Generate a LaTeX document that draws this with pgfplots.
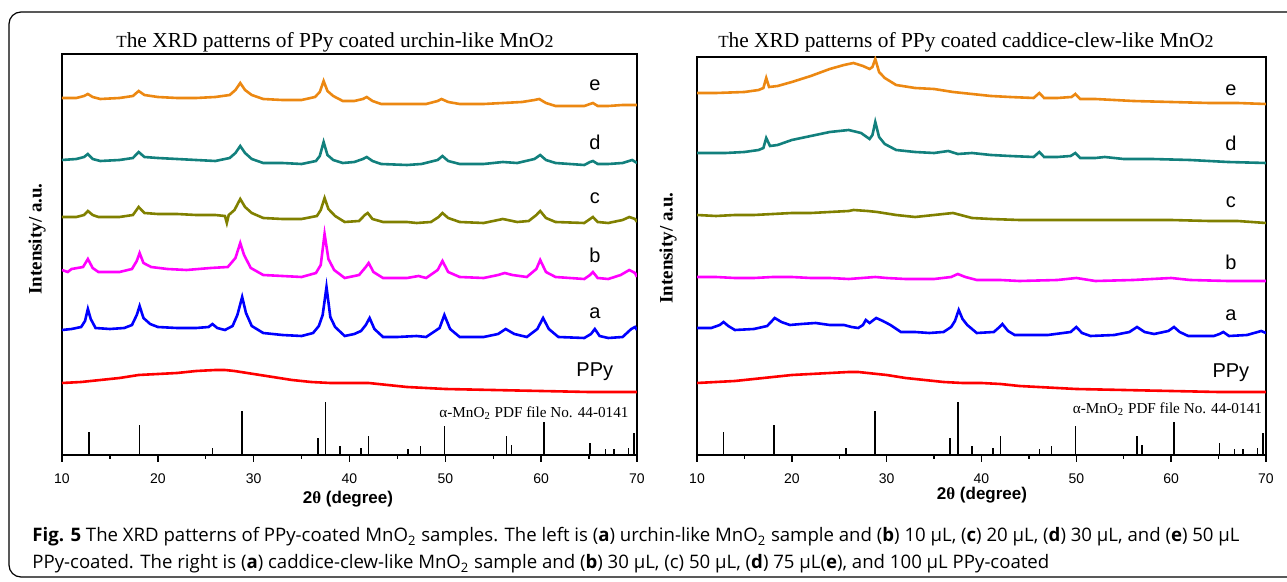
\documentclass[border=0pt]{standalone}
\usepackage{pgfplots}
\pgfplotsset{compat=1.18}
\usepackage{fontspec}
\setmainfont{Liberation Serif}
\setsansfont{Liberation Sans}
\newfontfamily\capfont{Open Sans}

\definecolor{corange}{RGB}{236,136,18}
\definecolor{cteal}{RGB}{18,128,125}
\definecolor{colive}{RGB}{128,128,0}
\definecolor{cmag}{RGB}{255,0,255}
\definecolor{cblue}{RGB}{0,0,255}
\definecolor{cred}{RGB}{255,0,0}

% alpha-MnO2 reference lines (PDF 44-0141)
\pgfplotstableread{
x h
12.8 23
18.1 30
25.7 7
28.8 44
36.7 17
37.5 53
39.0 9
41.2 7
42.0 19
46.1 6
47.4 9
49.9 29
56.4 19
56.9 10
60.3 33
65.1 12
66.7 6
67.6 6
69.1 7
69.7 22
}\sticks

\pgfplotsset{
  xrd/.style={
    scale only axis, xmin=10, xmax=70, ymin=0,
    xtick={10,20,...,70}, minor xtick={15,25,...,65}, ytick=\empty,
    xtick pos=bottom, tick align=outside,
    major tick length=3.5pt, minor tick length=2pt,
    axis line style={line width=0.7pt},
    every tick/.style={black, line width=0.7pt},
    tick label style={font=\sffamily\fontsize{7}{8}\selectfont},
    xticklabel shift=2.5pt,
    /pgf/number format/assume math mode=true,
    every axis plot/.append style={line width=1.3pt, no marks},
  },
}
\tikzset{
  lab/.style={font=\sffamily\fontsize{10}{12}\selectfont},
  pdf/.style={font=\fontsize{7.6}{9}\selectfont},
}

\begin{document}
\begin{tikzpicture}
\useasboundingbox (0,0) rectangle (643.5pt,-291pt);
\draw[line width=0.6pt, rounded corners=6pt] (4.5pt,-6pt) rectangle (660pt,-288.5pt);

% ---------------- left panel ----------------
\begin{axis}[xrd, at={(31pt,-227.5pt)}, anchor=south west,
  width=287.5pt, height=200.5pt, ymax=401]
\addplot[corange] coordinates {(10,357)(11.5,357)(12.3,359)(12.7,361)(13.2,358)(14,356)(16,357)(17.4,359)(18,364)(18.6,360)(20,358)(22,357)(24,357)(26,358)(27.5,360)(28.1,365)(28.6,372)(29.1,365)(29.8,360)(31,356)(33,355)(35,355)(36.4,358)(36.9,363)(37.3,374)(37.7,364)(38.3,359)(39.3,354)(40.5,354)(41.4,356)(41.8,358)(42.4,354)(43.3,351)(46,351)(48,351)(49.2,354)(49.6,356)(50.3,353)(51.5,351)(54,351)(56,352)(58,353)(59.3,355)(59.8,356)(60.5,352)(61.5,349)(64.5,349)(65.1,351)(65.4,352)(65.9,349)(67,349)(68.5,350)(70,350)};
\addplot[cteal] coordinates {(10,295)(11.5,296)(12.3,298)(12.7,301)(13.2,296)(14,294)(16,295)(17.4,297)(18,303)(18.6,298)(20,297)(22,296)(24,295)(26,294)(27.5,297)(28.1,302)(28.6,309)(29.1,302)(29.8,296)(31,292)(33,292)(35,291)(36.5,294)(36.9,299)(37.3,313)(37.7,300)(38.3,295)(39.3,292)(40.5,293)(41.4,296)(41.8,298)(42.4,294)(43.3,291)(46,290)(47.5,291)(49.2,295)(49.7,299)(50.3,294)(51.5,291)(54,291)(56,293)(57.5,292)(59.3,296)(59.9,300)(60.5,295)(61.5,292)(64.5,290)(65.1,293)(65.4,294)(65.9,291)(67,291)(68.5,292)(69.5,295)(70,292)};
\addplot[colive] coordinates {(10,238)(11.5,238)(12.3,240)(12.7,244)(13.2,240)(13.8,238)(16,238)(17.4,240)(18,248)(18.6,242)(20,241)(22,241)(24,240)(26,240)(27.0,239)(27.2,232)(27.4,240)(28.0,245)(28.6,256)(29.1,248)(29.8,242)(31,237)(33,236)(35,236)(36.6,239)(37.0,245)(37.4,257)(37.8,246)(38.5,239)(39.5,233)(41,234)(41.6,240)(41.9,242)(42.4,236)(43.5,233)(46,233)(47,232)(48.5,233)(49.3,238)(49.7,242)(50.3,237)(51.5,233)(54,232)(56,236)(57.5,233)(58.7,234)(59.5,240)(59.9,244)(60.5,237)(61.5,233)(64.5,232)(65.1,236)(65.4,238)(65.9,233)(67,232)(68.5,235)(69.2,238)(69.8,236)(70,233)};
\addplot[cmag] coordinates {(10,185)(10.6,183)(11,186)(12.2,188)(12.7,196)(13.2,187)(13.8,183)(16,183)(17.3,186)(17.8,194)(18.1,202)(18.5,192)(19.3,188)(21,186)(23,185)(25.5,187)(27.3,188)(28.1,197)(28.6,212)(29.0,200)(29.7,187)(31,180)(33,179)(35,178)(36.5,182)(37.0,190)(37.4,221)(37.8,196)(38.4,185)(39.5,177)(41,180)(41.7,188)(42,192)(42.5,183)(43.5,177)(46,177)(47.2,179)(48,177)(49.2,185)(49.7,194)(50.3,183)(51.5,178)(54,177)(55.5,180)(56.2,182)(57,180)(58.5,178)(59.5,186)(59.9,195)(60.5,183)(61.5,178)(64.5,176)(65.1,180)(65.4,183)(65.9,177)(67,176)(68.3,180)(69.2,185)(69.8,182)(70,178)};
\addplot[cblue] coordinates {(10,125)(11,126)(12,128)(12.4,134)(12.7,146)(13.0,136)(13.5,127)(15,126)(16.5,127)(17.3,130)(17.8,140)(18.1,149)(18.5,137)(19.2,131)(20,128)(22,127)(24,127)(25.3,128)(25.7,131)(26.2,127)(27,125)(27.8,129)(28.3,140)(28.8,158)(29.2,142)(29.8,129)(31,122)(33,120)(35,119)(36.2,122)(36.8,129)(37.2,140)(37.6,168)(38.0,138)(38.5,128)(39.5,119)(40.5,121)(41.2,124)(41.7,130)(42.1,137)(42.6,126)(43.5,118)(45,118)(47,119)(48,118)(49.4,127)(49.9,140)(50.5,126)(51.5,118)(54,118)(55.5,121)(56.3,126)(57.2,121)(58.5,118)(59.6,126)(60.2,137)(60.8,126)(61.8,118)(64.5,117)(65.2,121)(65.6,126)(66.1,119)(67,117)(68.5,118)(69.4,126)(69.8,128)(70,125)};
\addplot[cred] coordinates {(10,72)(12,73)(14,75)(16,77)(18,80)(20,81)(22,82)(24,84)(26,85)(27,85)(28,84)(30,81)(32,78)(34,75)(36,73)(38,72)(40,72)(42,72)(44,70)(46,68)(48,67)(50,66)(55,65)(60,64)(65,63)(70,63)};
\addplot[ycomb, black, line width=0.8pt] table[x=x, y=h] {\sticks};
\node[lab] at (axis cs:65.6,370) {e};
\node[lab] at (axis cs:65.6,313) {d};
\node[lab] at (axis cs:65.6,257) {c};
\node[lab] at (axis cs:65.6,200) {b};
\node[lab] at (axis cs:65.6,142) {a};
\node[lab] at (axis cs:65.6,83) {PPy};
\node[pdf] at (axis cs:59.25,42) {α-MnO\textsubscript{2} PDF file No. 44-0141};
\end{axis}

% ---------------- right panel ----------------
\begin{axis}[xrd, at={(348.5pt,-227.5pt)}, anchor=south west,
  width=284.5pt, height=199pt, ymax=398]
\addplot[corange] coordinates {(10,362)(12,362)(15,363)(16.5,365)(17.0,367)(17.3,377)(17.6,368)(18.5,369)(20,373)(22,379)(24,386)(25.5,390)(26.5,392)(27.5,389)(28.2,386)(28.5,388)(28.8,396)(29.2,383)(29.8,377)(31,370)(33,367)(35,366)(37,363)(39,361)(41,359)(43,358)(45.5,357)(46.1,362)(46.6,357)(48,357)(49.5,358)(49.9,361)(50.4,356)(52,356)(56,354)(60,353)(64,352)(67,352)(70,351)};
\addplot[cteal] coordinates {(10,302)(13,302)(15,303)(16.5,305)(17.0,307)(17.3,317)(17.7,309)(18.5,310)(20,315)(22,319)(24,323)(26,325)(27.3,322)(28.2,316)(28.5,320)(28.8,333)(29.2,318)(29.8,311)(31,305)(33,303)(35,302)(36.5,304)(37.5,301)(39,302)(41,300)(43,299)(45.5,298)(46.1,303)(46.6,298)(48,298)(49.4,299)(49.9,302)(50.4,297)(52,297)(53,298)(55,296)(58,296)(62,295)(66,293)(70,292)};
\addplot[colive] coordinates {(10,240)(12,239)(14,240)(16,240)(18,241)(20,242)(22,242)(24,243)(26,244)(26.5,245)(28,244)(29,243)(31,240)(33,238)(35,240)(37,242)(37.8,240)(39,237)(41,236)(44,235)(48,235)(52,235)(56,235)(60,235)(64,234)(67,234)(70,232)};
\addplot[cmag] coordinates {(10,178)(12,178)(14,177)(16,177)(18,178)(20,178)(22,177)(24,177)(26,176)(28.8,178)(30,177)(32,176)(35,176)(36.8,178)(37.5,181)(38.3,178)(39.5,175)(42,175)(44,174)(48,175)(50,177)(52,174)(56,175)(60,177)(62,175)(66,174)(70,174)};
\addplot[cblue] coordinates {(10,127)(11.5,127)(12.4,130)(12.8,133)(13.3,129)(14,125)(16,126)(17.4,129)(18.2,137)(18.9,133)(19.8,130)(21,131)(22.5,132)(24,130)(25.5,130)(26.3,128)(27,127)(27.5,130)(27.8,135)(28.2,132)(28.9,137)(29.6,134)(30.4,130)(31.5,123)(33,123)(34.5,122)(36,123)(36.8,128)(37.2,134)(37.6,145)(38.0,136)(38.5,130)(39.5,122)(41.3,123)(41.9,128)(42.2,131)(42.8,124)(43.5,120)(47,120)(49.4,123)(50,128)(50.6,122)(51.5,119)(54,120)(55.6,123)(56.4,128)(57.2,123)(58.2,121)(59.7,124)(60.3,128)(60.9,123)(61.8,119)(64.5,119)(65.1,121)(65.5,123)(66.1,119)(68,120)(69.5,124)(70,122)};
\addplot[cred] coordinates {(10,72)(12,73)(14,74)(16,76)(18,78)(20,80)(22,81)(24,82)(26,83)(27,83)(28,82)(30,80)(32,77)(34,75)(36,73)(38,72)(40,72)(42,71)(44,69)(46,68)(48,67)(50,66)(55,65)(60,64)(65,63)(70,63)};
\addplot[ycomb, black, line width=0.8pt] table[x=x, y=h] {\sticks};
\node[lab] at (axis cs:66.3,365) {e};
\node[lab] at (axis cs:66.3,312) {d};
\node[lab] at (axis cs:66.3,253) {c};
\node[lab] at (axis cs:66.3,193) {b};
\node[lab] at (axis cs:66.3,140) {a};
\node[lab] at (axis cs:66.3,82) {PPy};
\node[pdf] at (axis cs:59.6,46) {α-MnO\textsubscript{2} PDF file No. 44-0141};
\end{axis}

% titles and axis labels
\node[font=\fontsize{10.7}{12}\selectfont] at (167.5pt,-21pt) {{\fontsize{8.5}{10}\selectfont T}he XRD patterns of PPy coated urchin-like MnO{\fontsize{9}{10}\selectfont 2}};
\node[font=\fontsize{10.7}{12}\selectfont] at (483pt,-21pt) {{\fontsize{8.5}{10}\selectfont T}he XRD patterns of PPy coated caddice-clew-like MnO{\fontsize{9}{10}\selectfont 2}};
\node[font=\bfseries\fontsize{9.5}{11}\selectfont, rotate=90] at (18.5pt,-119.5pt) {Intensity/ a.u.};
\node[font=\bfseries\fontsize{9.5}{11}\selectfont, rotate=90] at (334pt,-124pt) {Intensity/ a.u.};
\node[font=\sffamily\bfseries\fontsize{8.5}{10}\selectfont] at (174pt,-249.5pt) {2{\rmfamily θ} (degree)};
\node[font=\sffamily\bfseries\fontsize{8.5}{10}\selectfont] at (491pt,-247.5pt) {2{\rmfamily θ} (degree)};

% caption
\node[anchor=west, inner sep=0pt, font=\capfont\fontsize{9.3}{11}\selectfont] at (16pt,-268.5pt)
  {\textbf{Fig. 5} The XRD patterns of PPy-coated MnO\textsubscript{2} samples. The left is (\textbf{a}) urchin-like MnO\textsubscript{2} sample and (\textbf{b}) 10 μL, (\textbf{c}) 20 μL, (\textbf{d}) 30 μL, and (\textbf{e}) 50 μL};
\node[anchor=west, inner sep=0pt, font=\capfont\fontsize{9.3}{11}\selectfont] at (16pt,-282pt)
  {PPy-coated. The right is (\textbf{a}) caddice-clew-like MnO\textsubscript{2} sample and (\textbf{b}) 30 μL, (c) 50 μL, (\textbf{d}) 75 μL(\textbf{e}), and 100 μL PPy-coated};
\end{tikzpicture}
\end{document}
